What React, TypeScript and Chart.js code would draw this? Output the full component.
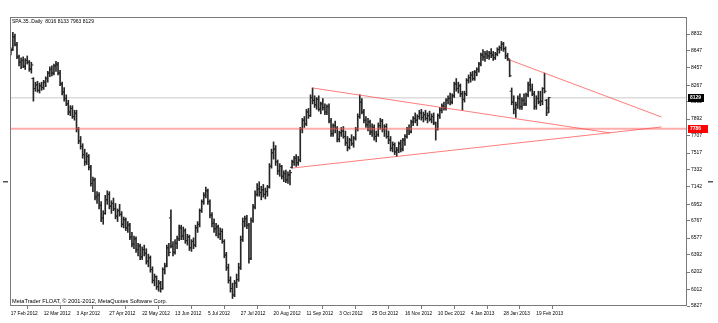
import React, { useEffect, useRef } from "react";
import { Chart, registerables } from "chart.js";
Chart.register(...registerables);

const symbolTitle = "SPA.35..Daily";
const copyright = "MetaTrader FLOAT, \u00a9 2001-2012, MetaQuotes Software Corp.";

const dateLabels = [
  "17 Feb 2012", "12 Mar 2012", "3 Apr 2012", "27 Apr 2012", "22 May 2012", "13 Jun 2012",
  "5 Jul 2012", "27 Jul 2012", "20 Aug 2012", "11 Sep 2012", "3 Oct 2012", "25 Oct 2012",
  "16 Nov 2012", "10 Dec 2012", "4 Jan 2013", "28 Jan 2013", "19 Feb 2013",
];
const dateLabelBars = [0, 16, 32, 48, 64, 80, 96, 112, 128, 144, 160, 176, 192, 208, 224, 240, 256];

const priceTicks = [8832, 8647, 8457, 8267, 8082, 7892, 7707, 7517, 7332, 7142, 6952, 6767, 6577, 6392, 6202, 6012, 5827];

const opens = [
  8620, 8660, 8800, 8710, 8580, 8520, 8540, 8470, 8540, 8520,
  8450, 8340, 8230, 8270, 8210, 8260, 8240, 8300, 8340, 8400,
  8440, 8400, 8480, 8490, 8400, 8280, 8190, 8120, 8060, 7970,
  8010, 7920, 7950, 7780, 7650, 7590, 7500, 7420, 7480, 7360,
  7180, 7220, 7030, 7050, 6940, 6800, 6850, 7000, 7060, 6930,
  6960, 6900, 6820, 6880, 6840, 6730, 6780, 6690, 6720, 6590,
  6510, 6570, 6450, 6490, 6370, 6450, 6410, 6320, 6360, 6230,
  6110, 6150, 6040, 6080, 6020, 6230, 6270, 6470, 6800, 6490,
  6420, 6520, 6570, 6690, 6600, 6660, 6550, 6590, 6470, 6540,
  6500, 6690, 6730, 6880, 6980, 7050, 7100, 6980, 6830, 6740,
  6680, 6700, 6620, 6650, 6540, 6390, 6250, 6110, 6020, 5950,
  6080, 6120, 6250, 6560, 6760, 6790, 6720, 6350, 6770, 6920,
  7060, 7120, 7080, 7110, 7060, 7090, 7140, 7370, 7520, 7560,
  7420, 7320, 7370, 7260, 7290, 7220, 7270, 7360, 7420, 7460,
  7410, 7440, 7780, 7880, 7840, 7970, 7930, 8130, 8100, 8050,
  8110, 8000, 8060, 8020, 7970, 8030, 7870, 7730, 7820, 7790,
  7670, 7740, 7760, 7700, 7630, 7580, 7660, 7620, 7680, 7780,
  7920, 8080, 7970, 7880, 7830, 7860, 7750, 7800, 7700, 7720,
  7820, 7870, 7780, 7810, 7700, 7660, 7570, 7610, 7530, 7550,
  7620, 7560, 7660, 7700, 7780, 7750, 7860, 7900, 7880, 7920,
  7960, 7910, 7940, 7900, 7930, 7890, 7920, 7850, 7780, 7930,
  7990, 8040, 8010, 8100, 8120, 8080, 8150, 8280, 8230, 8260,
  8170, 8110, 8170, 8320, 8350, 8380, 8340, 8410, 8440, 8500,
  8600, 8580, 8610, 8590, 8620, 8600, 8570, 8610, 8660, 8680,
  8720, 8670, 8590, 8545, 8200, 8080, 8000, 8050, 8120, 8030,
  8100, 8060, 8160, 8270, 8220, 8170, 8030, 8120, 8080, 8090,
  8230, 8100, 8016,
];
const highs = [
  8680, 8850, 8830, 8740, 8600, 8570, 8580, 8560, 8590, 8540,
  8520, 8350, 8300, 8310, 8290, 8300, 8320, 8360, 8420, 8470,
  8480, 8500, 8530, 8520, 8430, 8300, 8240, 8160, 8100, 8040,
  8040, 7990, 7990, 7800, 7700, 7620, 7560, 7520, 7500, 7380,
  7250, 7240, 7090, 7080, 6980, 6880, 7050, 7100, 7090, 6990,
  7020, 6960, 6900, 6950, 6870, 6810, 6800, 6760, 6740, 6640,
  6600, 6590, 6520, 6510, 6480, 6500, 6460, 6400, 6380, 6260,
  6180, 6160, 6110, 6100, 6250, 6300, 6500, 6520, 6890, 6540,
  6560, 6600, 6720, 6720, 6700, 6680, 6620, 6610, 6560, 6580,
  6720, 6760, 6900, 7000, 7080, 7140, 7120, 7000, 6860, 6790,
  6740, 6720, 6690, 6680, 6560, 6420, 6290, 6150, 6080, 6110,
  6180, 6300, 6600, 6800, 6820, 6830, 6740, 6800, 6950, 7100,
  7180, 7200, 7150, 7170, 7130, 7160, 7400, 7560, 7640, 7600,
  7440, 7400, 7380, 7320, 7330, 7310, 7330, 7440, 7480, 7500,
  7480, 7800, 7900, 7920, 8000, 8010, 8160, 8236, 8150, 8130,
  8150, 8080, 8120, 8060, 8050, 8060, 7900, 7840, 7870, 7810,
  7760, 7800, 7810, 7760, 7700, 7680, 7720, 7700, 7800, 7950,
  8160, 8120, 8000, 7920, 7900, 7880, 7840, 7830, 7760, 7850,
  7900, 7890, 7830, 7840, 7760, 7700, 7640, 7630, 7580, 7640,
  7660, 7680, 7720, 7800, 7830, 7880, 7920, 7960, 7940, 7990,
  8000, 7970, 7990, 7960, 7980, 7950, 7960, 7860, 7950, 8020,
  8060, 8080, 8120, 8150, 8180, 8170, 8300, 8340, 8300, 8280,
  8200, 8200, 8340, 8380, 8410, 8420, 8430, 8460, 8520, 8620,
  8660, 8640, 8650, 8640, 8670, 8640, 8630, 8680, 8700, 8750,
  8740, 8690, 8620, 8550, 8236, 8150, 8080, 8150, 8170, 8130,
  8170, 8180, 8300, 8340, 8280, 8200, 8150, 8200, 8200, 8240,
  8400, 8110, 8133,
];
const lows = [
  8600, 8650, 8700, 8560, 8480, 8450, 8460, 8440, 8500, 8420,
  8400, 8090, 8200, 8190, 8180, 8210, 8220, 8250, 8300, 8360,
  8370, 8380, 8420, 8380, 8260, 8160, 8090, 8040, 7940, 7930,
  7900, 7880, 7750, 7620, 7560, 7460, 7380, 7390, 7330, 7150,
  7090, 7000, 6960, 6900, 6760, 6730, 6840, 6950, 6900, 6850,
  6880, 6790, 6760, 6820, 6700, 6690, 6660, 6640, 6560, 6480,
  6460, 6420, 6380, 6340, 6340, 6380, 6290, 6260, 6200, 6080,
  6050, 6010, 5990, 5980, 6010, 6180, 6260, 6380, 6470, 6380,
  6400, 6460, 6550, 6560, 6560, 6520, 6500, 6440, 6430, 6460,
  6480, 6640, 6700, 6860, 6950, 7020, 6950, 6800, 6700, 6640,
  6600, 6580, 6560, 6520, 6360, 6220, 6080, 5980, 5910, 5930,
  6030, 6100, 6230, 6540, 6700, 6680, 6300, 6340, 6750, 6900,
  7040, 7040, 7000, 7030, 7010, 7040, 7130, 7350, 7450, 7380,
  7280, 7260, 7230, 7200, 7190, 7180, 7165, 7350, 7380, 7370,
  7380, 7420, 7740, 7800, 7820, 7900, 7920, 8060, 8020, 8000,
  7980, 7950, 7990, 7940, 7940, 7850, 7700, 7700, 7740, 7640,
  7640, 7700, 7680, 7600, 7540, 7560, 7600, 7580, 7660, 7760,
  7900, 7950, 7850, 7800, 7760, 7720, 7700, 7660, 7640, 7700,
  7780, 7750, 7700, 7680, 7620, 7540, 7530, 7500, 7480, 7520,
  7530, 7540, 7600, 7680, 7720, 7740, 7820, 7850, 7820, 7890,
  7880, 7860, 7880, 7850, 7870, 7850, 7830, 7660, 7770, 7900,
  7960, 7990, 7990, 8060, 8050, 8060, 8130, 8200, 8180, 8140,
  7990, 8080, 8150, 8290, 8300, 8320, 8320, 8370, 8410, 8480,
  8540, 8530, 8560, 8550, 8570, 8540, 8550, 8590, 8620, 8650,
  8640, 8560, 8540, 8360, 8050, 7950, 7910, 8010, 8000, 8000,
  8040, 8040, 8140, 8200, 8150, 8000, 8000, 8060, 8040, 8050,
  8180, 7930, 7963,
];
const closes = [
  8650, 8800, 8720, 8580, 8520, 8540, 8480, 8540, 8520, 8440,
  8490, 8230, 8270, 8210, 8260, 8240, 8300, 8340, 8400, 8440,
  8400, 8480, 8500, 8400, 8280, 8190, 8120, 8060, 7970, 8010,
  7920, 7960, 7780, 7650, 7590, 7500, 7420, 7480, 7360, 7180,
  7220, 7030, 7050, 6940, 6800, 6850, 7000, 7060, 6930, 6960,
  6900, 6820, 6880, 6840, 6730, 6780, 6690, 6720, 6590, 6510,
  6570, 6450, 6490, 6370, 6450, 6410, 6320, 6360, 6230, 6110,
  6150, 6040, 6080, 6020, 6230, 6270, 6470, 6420, 6490, 6420,
  6520, 6570, 6690, 6600, 6660, 6550, 6590, 6470, 6540, 6500,
  6690, 6730, 6880, 6980, 7050, 7100, 6980, 6830, 6740, 6680,
  6700, 6620, 6650, 6540, 6390, 6250, 6110, 6020, 5950, 6080,
  6120, 6250, 6560, 6760, 6790, 6720, 6350, 6770, 6920, 7060,
  7120, 7080, 7110, 7060, 7090, 7140, 7370, 7520, 7560, 7420,
  7320, 7370, 7260, 7290, 7220, 7280, 7300, 7420, 7460, 7410,
  7440, 7780, 7880, 7840, 7970, 7930, 8130, 8100, 8050, 8110,
  8000, 8060, 8020, 7970, 8030, 7870, 7730, 7820, 7790, 7670,
  7740, 7760, 7700, 7630, 7580, 7660, 7620, 7680, 7780, 7920,
  8080, 7970, 7880, 7830, 7860, 7750, 7800, 7700, 7720, 7820,
  7870, 7780, 7810, 7700, 7660, 7570, 7610, 7530, 7550, 7620,
  7560, 7660, 7700, 7780, 7750, 7860, 7900, 7880, 7920, 7960,
  7910, 7940, 7900, 7930, 7890, 7920, 7850, 7780, 7930, 7990,
  8040, 8010, 8100, 8120, 8080, 8150, 8280, 8230, 8260, 8170,
  8110, 8170, 8320, 8350, 8380, 8340, 8410, 8440, 8500, 8600,
  8580, 8610, 8590, 8620, 8600, 8570, 8610, 8660, 8680, 8720,
  8670, 8590, 8560, 8370, 8080, 8000, 8050, 8120, 8030, 8100,
  8060, 8160, 8270, 8220, 8170, 8030, 8120, 8080, 8090, 8230,
  8200, 7960, 8129,
];

const currentPrice = 8129;
const supportLevel = 7786;

const upperTrendBars = [147, 292];
const upperTrendPrices = [8236, 7739];
const lowerTrendBars = [137.5, 317];
const lowerTrendPrices = [7352, 7805];
const fallingTrendBars = [243, 317];
const fallingTrendPrices = [8545, 7915];

const X_MIN = -0.4;
const X_MAX = 329.4;
const Y_MIN = 5827;
const Y_MAX = 9020;

const FONT = "Liberation Sans";
const BAR_COLOR = "#262626";
const TREND_COLOR = "rgba(255,70,70,0.7)";

const overlayPlugin = {
  id: "mtOverlay",
  afterDraw(chart: any) {
    const { ctx, chartArea } = chart;
    const ys = chart.scales.y;
    const { left, right, top, bottom } = chartArea;
    ctx.save();
    ctx.strokeStyle = "#7a7a7a";
    ctx.lineWidth = 1;
    ctx.strokeRect(Math.round(left) + 0.5, Math.round(top) + 0.5, Math.round(right - left) - 1, Math.round(bottom - top) - 1);

    ctx.fillStyle = "#000";
    ctx.textAlign = "left";
    ctx.textBaseline = "middle";
    const last = closes.length - 1;
    ctx.font = `5px "${FONT}"`;
    ctx.fillText(
      `${symbolTitle}  ${opens[last]} ${highs[last]} ${lows[last]} ${closes[last]}`,
      left + 2,
      top + 5
    );
    ctx.font = `5.6px "${FONT}"`;
    ctx.fillText(copyright, left + 2, bottom - 5);

    const drawTag = (value: number, bg: string, w: number) => {
      const y = ys.getPixelForValue(value);
      ctx.fillStyle = bg;
      ctx.fillRect(right + 1, Math.round(y) - 4, w, 8);
      ctx.fillStyle = "#fff";
      ctx.font = `bold 5px "${FONT}"`;
      ctx.fillText(String(value), right + 3, Math.round(y));
    };
    drawTag(currentPrice, "#000", 16);
    drawTag(supportLevel, "#ff0000", 20);

    ctx.fillStyle = "#555";
    ctx.fillRect(3, 181, 5, 1.5);
    ctx.fillRect(708, 181, 5, 1.5);
    ctx.restore();
  },
};

export default function App() {
  const ref = useRef<HTMLCanvasElement | null>(null);

  useEffect(() => {
    document.body.style.margin = "0";
    const canvas = ref.current;
    if (!canvas) return;

    const idx = closes.map((_, i) => i);
    const hline = (v: number) => [
      { x: X_MIN, y: v },
      { x: X_MAX, y: v },
    ];
    const seg = (xs: number[], ys: number[]) => xs.map((x, i) => ({ x, y: ys[i] }));

    const lineDs = (data: any[], color: string, width: number, order: number) => ({
      type: "line" as const,
      data,
      borderColor: color,
      borderWidth: width,
      pointRadius: 0,
      tension: 0,
      fill: false,
      order,
    });

    const tickDs = (offset: number, values: number[]) => ({
      type: "line",
      showLine: false,
      data: idx.map((i) => ({ x: i + offset, y: values[i] })),
      pointStyle: "line",
      pointRadius: 1,
      pointBorderWidth: 1,
      borderColor: BAR_COLOR,
      pointBorderColor: BAR_COLOR,
      order: 9,
    });

    const chart = new Chart(canvas, {
      type: "bar",
      data: {
        datasets: [
          lineDs(hline(currentPrice), "#dcdcdc", 1.5, 20) as any,
          {
            type: "bar",
            data: idx.map((i) => ({ x: i, y: [lows[i], highs[i]] })),
            backgroundColor: BAR_COLOR,
            borderWidth: 0,
            barThickness: 1,
            order: 10,
          } as any,
          tickDs(-0.5, opens) as any,
          tickDs(0.5, closes) as any,
          lineDs(hline(supportLevel), "rgba(255,90,90,0.5)", 2, 2) as any,
          lineDs(seg(upperTrendBars, upperTrendPrices), TREND_COLOR, 1, 1) as any,
          lineDs(seg(lowerTrendBars, lowerTrendPrices), TREND_COLOR, 1, 1) as any,
          lineDs(seg(fallingTrendBars, fallingTrendPrices), TREND_COLOR, 1, 1) as any,
        ],
      },
      options: {
        responsive: false,
        animation: false,
        events: [],
        layout: { padding: { left: 10, top: 17, right: 0, bottom: 0 } },
        plugins: {
          legend: { display: false },
          tooltip: { enabled: false },
          title: { display: false },
        },
        scales: {
          x: {
            type: "linear",
            position: "bottom",
            min: X_MIN,
            max: X_MAX,
            offset: false,
            border: { display: false },
            grid: {
              display: true,
              drawOnChartArea: false,
              drawTicks: true,
              tickLength: 3,
              color: "#7a7a7a",
            },
            afterBuildTicks: (s: any) => {
              s.ticks = dateLabelBars.map((v) => ({ value: v }));
            },
            afterFit: (s: any) => {
              s.height = 17;
            },
            ticks: {
              autoSkip: false,
              maxRotation: 0,
              minRotation: 0,
              align: "start",
              padding: 2,
              color: "#000",
              font: { family: FONT, size: 4.8 },
              callback: (v: any) => {
                const k = dateLabelBars.indexOf(Number(v));
                return k >= 0 ? dateLabels[k] : "";
              },
            },
          },
          y: {
            type: "linear",
            position: "right",
            min: Y_MIN,
            max: Y_MAX,
            border: { display: false },
            grid: {
              display: true,
              drawOnChartArea: false,
              drawTicks: true,
              tickLength: 3,
              color: "#7a7a7a",
            },
            afterBuildTicks: (s: any) => {
              s.ticks = priceTicks.map((v) => ({ value: v }));
            },
            afterFit: (s: any) => {
              s.width = 31;
            },
            ticks: {
              padding: 1,
              color: "#000",
              font: { family: FONT, size: 5 },
              callback: (v: any) => String(v),
            },
          },
        },
      },
      plugins: [overlayPlugin],
    });

    return () => chart.destroy();
  }, []);

  return (
    <div style={{ width: 718, height: 323, background: "#fff" }}>
      <canvas ref={ref} width={718} height={323} style={{ display: "block" }} />
    </div>
  );
}
